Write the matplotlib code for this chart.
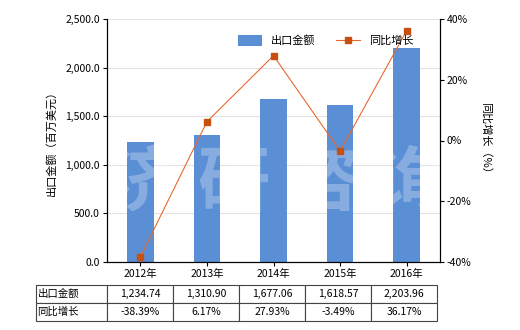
import matplotlib.pyplot as plt
import matplotlib.ticker as mticker

plt.rcParams['font.family'] = ['Noto Sans CJK SC', 'DejaVu Sans']

years = ['2012年', '2013年', '2014年', '2015年', '2016年']
export_value = [1234.74, 1310.90, 1677.06, 1618.57, 2203.96]
yoy_growth = [-38.39, 6.17, 27.93, -3.49, 36.17]
value_labels = ['1,234.74', '1,310.90', '1,677.06', '1,618.57', '2,203.96']
growth_labels = ['-38.39%', '6.17%', '27.93%', '-3.49%', '36.17%']

fig = plt.figure(figsize=(5.2, 3.3), dpi=100)
ax = fig.add_axes([107/520, 1-262/330, 333/520, 243/330])
x = list(range(len(years)))

ax.bar(x, export_value, width=0.4, color='#5A8ED5', zorder=2, label='出口金额')
ax.set_xlim(-0.5, 4.5)
ax.set_ylim(0, 2500)
ax.set_yticks([0, 500, 1000, 1500, 2000, 2500])
ax.yaxis.set_major_formatter(mticker.FuncFormatter(lambda v, p: f'{v:,.1f}'))
ax.set_xticks(x)
ax.set_xticklabels(years)
ax.grid(axis='y', color='#e3e3e3', linewidth=0.8, zorder=0)
ax.tick_params(labelsize=7.5, length=3, width=0.8, pad=2)
ax.spines['top'].set_visible(False)
ax.set_ylabel('出口金额（百万美元）', fontsize=8, labelpad=6)

ax2 = ax.twinx()
ax2.plot(x, yoy_growth, color='#E8692E', linewidth=0.8, marker='s', markersize=4,
         markerfacecolor='#C8500F', markeredgecolor='#C8500F', label='同比增长', zorder=3)
ax2.set_ylim(-40, 40)
ax2.set_yticks([-40, -20, 0, 20, 40])
ax2.yaxis.set_major_formatter(mticker.FuncFormatter(lambda v, p: f'{v:.0f}%'))
ax2.tick_params(labelsize=7.5, length=3, width=0.8, pad=2)
ax2.spines['top'].set_visible(False)
ax2.set_ylabel('同比增长（%）', fontsize=8, rotation=270, labelpad=14)

# watermark
for xp, ch in zip([0.11, 0.38, 0.65, 0.91], '济研咨询'):
    ax.text(xp, 0.32, ch, transform=ax.transAxes, fontsize=52,
            color='white', alpha=0.28, ha='center', va='center', zorder=4, fontweight='bold')

h1, l1 = ax.get_legend_handles_labels()
h2, l2 = ax2.get_legend_handles_labels()
ax2.legend(h1 + h2, l1 + l2, loc='upper right', bbox_to_anchor=(0.95, 0.975), ncol=2,
           frameon=False, fontsize=8, handlelength=2.2, handleheight=1.1, columnspacing=1.8)

tax = fig.add_axes([36/520, 1-321/330, 401/520, 36/330])
tax.axis('off')
cells = [['出口金额'] + value_labels, ['同比增长'] + growth_labels]
tbl = tax.table(cellText=cells, bbox=[0, 0, 1, 1],
                colWidths=[71] + [66] * 5, cellLoc='center')
tbl.auto_set_font_size(False)
tbl.set_fontsize(7.5)
for (r, c), cell in tbl.get_celld().items():
    cell.set_edgecolor('#444444')
    cell.set_linewidth(0.8)
    if c == 0:
        cell.set_text_props(ha='left')
        cell.PAD = 0.02

fig.savefig('out.png', dpi=100)
